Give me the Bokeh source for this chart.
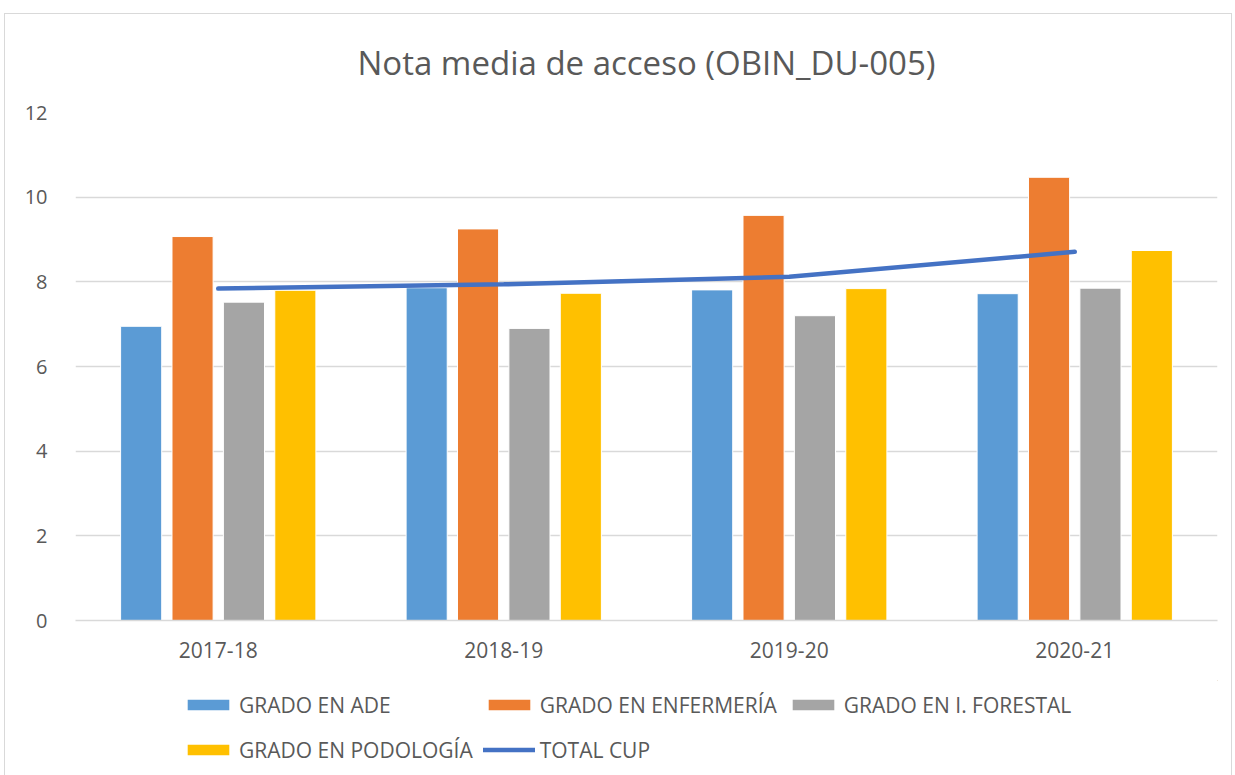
from bokeh.plotting import figure
from bokeh.layouts import column
from bokeh.models import (ColumnDataSource, Legend, LegendItem, Range1d, SingleIntervalTicker,
                          InlineStyleSheet)
from bokeh.transform import dodge
from bokeh.embed import file_html
from bokeh.resources import INLINE

years = ["2017-18", "2018-19", "2019-20", "2020-21"]
ade = [6.95, 7.86, 7.81, 7.72]
enfermeria = [9.07, 9.25, 9.57, 10.47]
forestal = [7.52, 6.90, 7.20, 7.85]
podologia = [7.80, 7.73, 7.84, 8.74]
total_cup = [7.84, 7.94, 8.12, 8.71]

series_names = ["GRADO EN ADE", "GRADO EN ENFERMERÍA", "GRADO EN I. FORESTAL", "GRADO EN PODOLOGÍA"]
colors = ["#5B9BD5", "#ED7D31", "#A5A5A5", "#FFC000"]
line_color = "#4472C4"

src = ColumnDataSource(dict(year=years, ade=ade, enf=enfermeria, fore=forestal, pod=podologia, tot=total_cup))

FONT = "Open Sans"
TXT = "#595959"
GRID = "#d9d9d9"

p = figure(x_range=years, y_range=Range1d(0, 12), width=1235, height=680,
           output_backend="svg", toolbar_location=None,
           min_border_left=75, min_border_right=18, min_border_top=112, min_border_bottom=60)

cols = ["ade", "enf", "fore", "pod"]
offsets = [-0.27, -0.09, 0.09, 0.27]
for c, off, col in zip(cols, offsets, colors):
    p.vbar(x=dodge("year", off, range=p.x_range), top=c, width=0.144, source=src,
           fill_color=col, line_color="white", line_width=1)

p.line(x="year", y="tot", source=src, line_color=line_color, line_width=4.5, line_cap="round")

p.title.text = "Nota media de acceso (OBIN_DU-005)"
p.title.align = "center"
p.title.text_font = FONT
p.title.text_font_style = "normal"
p.title.text_font_size = "33px"
p.title.text_color = TXT
p.title.offset = -17
p.title.standoff = 56

p.yaxis.ticker = SingleIntervalTicker(interval=2)
p.yaxis.axis_line_color = None
p.yaxis.major_tick_line_color = None
p.yaxis.minor_tick_line_color = None
p.yaxis.major_label_standoff = 22
p.yaxis.major_label_text_font = FONT
p.yaxis.major_label_text_font_size = "20px"
p.yaxis.major_label_text_color = TXT

p.xaxis.axis_line_color = GRID
p.xaxis.axis_line_width = 1.5
p.xaxis.major_tick_line_color = None
p.xaxis.minor_tick_line_color = None
p.xaxis.major_label_standoff = 15
p.xaxis.major_label_text_font = FONT
p.xaxis.major_label_text_font_size = "21px"
p.xaxis.major_label_text_color = TXT

p.xgrid.grid_line_color = None
p.ygrid.grid_line_color = GRID
p.ygrid.grid_line_width = 1.5
p.outline_line_color = None

# legend panel (dummy renderers placed outside the visible range, used only for legend swatches)
pl = figure(width=1235, height=95, x_range=Range1d(0, 1), y_range=Range1d(0, 1),
            output_backend="svg", toolbar_location=None, x_axis_type=None, y_axis_type=None,
            min_border_left=0, min_border_right=0, min_border_top=0, min_border_bottom=0)
pl.grid.grid_line_color = None
pl.outline_line_color = None
lrs = []
for col in colors:
    lrs.append(pl.vbar(x=[5], top=[5], bottom=[4], width=0.1, fill_color=col, line_color=None))
lline = pl.line(x=[5, 6], y=[5, 5], line_color=line_color, line_width=4.5, line_cap="round")

items = [LegendItem(label=n, renderers=[r]) for n, r in zip(series_names, lrs)]
items.append(LegendItem(label="TOTAL CUP", renderers=[lline]))
legend = Legend(items=items, location=(107, 8), orientation="horizontal", ncols=3,
                glyph_width=52, glyph_height=13, label_height=35, label_standoff=5,
                spacing=10, padding=0, margin=0, border_line_color=None,
                background_fill_alpha=0, label_text_font=FONT, label_text_font_size="21px",
                label_text_color=TXT)
pl.add_layout(legend)

layout = column(p, pl, spacing=0)
layout.stylesheets = [InlineStyleSheet(css=(
    ":host { position: relative; }"
    ":host::before { content: ''; position: absolute; left: 4px; top: 13px; right: 3px; "
    "bottom: -20px; border: 1px solid #d9d9d9; pointer-events: none; z-index: 10; }"))]
open("out.html", "w").write(file_html(layout, INLINE))
